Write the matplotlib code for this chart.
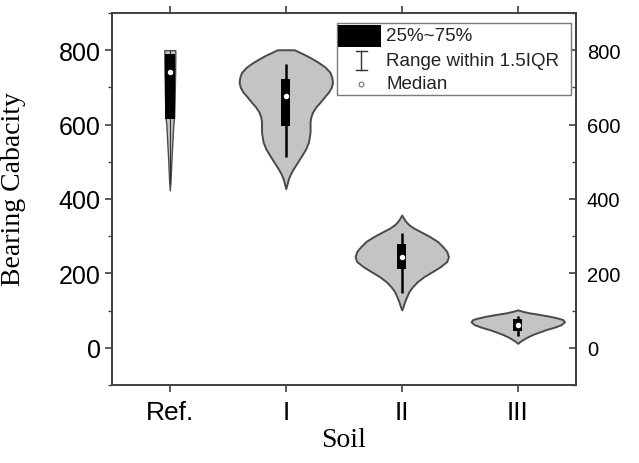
import numpy as np
import matplotlib.pyplot as plt
from matplotlib.patches import Rectangle
from matplotlib.ticker import MultipleLocator

# categories and positions on the x axis
SOILS = ["Ref.", "I", "II", "III"]
POSITIONS = [1, 2, 3, 4]

# violin outlines: bearing capacity values and
# half-width of the body (in screen px at the original size)
ref_coords = [423, 450, 500, 550, 600, 620, 660, 700, 740, 780, 800]
ref_vals = [0, 0.7, 1.5, 2.5, 3.5, 4.3, 4.7, 5.0, 5.3, 5.5, 5.5]

i_coords = [428, 440, 455, 468, 482, 500, 517, 535, 553, 580, 607, 620,
            633, 647, 660, 674, 687, 700, 714, 727, 740, 754, 767, 776,
            785, 794, 801]
i_vals = [0, 1.2, 2.7, 4.8, 7.7, 12, 16, 20, 22.7, 24.3, 24.3, 25,
          26.7, 30, 34.3, 38.5, 42.7, 45.5, 46.7, 46, 44.3, 39.5, 32.7, 27,
          21, 14, 8.5]

ii_coords = [102, 110, 125, 138, 152, 165, 178, 192, 205, 218, 232, 245,
             259, 272, 286, 299, 312, 321, 330, 338, 345, 351, 357]
ii_vals = [0, 1.2, 3, 5, 7.3, 11, 15.7, 22.5, 30.7, 38.5, 45, 46.7,
           45, 41, 35.7, 28, 19, 12.5, 7.5, 4.5, 2.6, 1.3, 0]

iii_coords = [12, 17, 22, 29, 36, 42, 49, 55, 62, 70, 76, 80, 85, 90, 94, 98, 102]
iii_vals = [0, 2.2, 5, 9.5, 15, 21, 28.3, 36, 43.3, 46.7, 45, 40, 31.7, 21,
            11.7, 5, 0]

COORDS = [ref_coords, i_coords, ii_coords, iii_coords]
VALS = [ref_vals, i_vals, ii_vals, iii_vals]

# box plot statistics
q1 = [615, 596, 212, 46]
q3 = [789, 722, 278, 78]
median = [741, 678, 243, 62]
whisker_lo = [440, 513, 147, 32]
whisker_hi = [800, 763, 308, 86]

PX_PER_UNIT = 116.0   # horizontal pixels per category step

fig = plt.figure(figsize=(6.39, 4.64), dpi=100)
ax = fig.add_axes([0.175, 0.168, 0.726, 0.802])

vpstats = []
widths = []
for c, v, m in zip(COORDS, VALS, median):
    vpstats.append({"coords": np.array(c, dtype=float),
                    "vals": np.array(v, dtype=float),
                    "mean": m, "median": m,
                    "min": min(c), "max": max(c)})
    widths.append(2 * max(v) / PX_PER_UNIT)

parts = ax.violin(vpstats, positions=POSITIONS, widths=widths,
                  showmeans=False, showextrema=False, showmedians=False)
for body in parts["bodies"]:
    body.set_facecolor("#c4c4c4")
    body.set_edgecolor("#4a4a4a")
    body.set_linewidth(1.4)
    body.set_alpha(1)
parts["bodies"][0].set_linewidth(1.0)

# whiskers, IQR boxes and medians
ax.vlines(POSITIONS[1:], whisker_lo[1:], whisker_hi[1:], color="black", lw=1.8, zorder=3)
ax.vlines(POSITIONS[:1], whisker_lo[:1], whisker_hi[:1], color="#333333", lw=0.8, zorder=3)
ax.bar(POSITIONS, np.array(q3) - np.array(q1), bottom=q1,
       width=[0.085, 0.075, 0.075, 0.075], color="black", zorder=4)
ax.scatter(POSITIONS, median, s=20, color="white", edgecolors="black",
           linewidths=0.5, zorder=5)

ax.set_xlim(0.5, 4.5)
ax.set_ylim(-100, 900)
ax.set_xticks(POSITIONS)
ax.set_xticklabels(SOILS, family="Liberation Sans", fontsize=19)
ax.set_yticks([0, 200, 400, 600, 800])
ax.yaxis.set_minor_locator(MultipleLocator(100))
for lab in ax.get_yticklabels():
    lab.set_family("Liberation Sans")
    lab.set_fontsize(18)

ax.tick_params(axis="x", direction="out", length=5, width=1.2, top=True,
               color="#404040", pad=6)
ax.tick_params(axis="y", which="major", direction="out", length=5, width=1.2,
               color="#404040", pad=3)
ax.tick_params(axis="y", which="minor", direction="out", length=3, width=1.0,
               color="#404040")
for sp in ax.spines.values():
    sp.set_color("#404040")
    sp.set_linewidth(1.4)

sec = ax.secondary_yaxis("right")
sec.set_yticks([0, 200, 400, 600, 800])
sec.yaxis.set_minor_locator(MultipleLocator(100))
sec.tick_params(which="major", direction="in", length=5, width=1.2,
                color="#404040", labelsize=14.5, pad=8)
sec.tick_params(which="minor", direction="in", length=3, width=1.0,
                color="#404040")
for lab in sec.get_yticklabels():
    lab.set_family("Liberation Sans")
sec.spines["right"].set_color("#404040")
sec.spines["right"].set_linewidth(1.4)

ax.set_ylabel("Bearing Cabacity", family="Liberation Serif", fontsize=20)
ax.yaxis.set_label_coords(-0.185, 0.53)
ax.set_xlabel("Soil", family="Liberation Serif", fontsize=20, labelpad=2)

# legend drawn by hand in axes coordinates
T = ax.transAxes
ax.add_patch(Rectangle((0.485, 0.78), 0.504, 0.193, transform=T,
                       facecolor="white", edgecolor="#7a7a7a", lw=1.0, zorder=6))
ax.add_patch(Rectangle((0.487, 0.909), 0.094, 0.058, transform=T,
                       facecolor="black", edgecolor="none", zorder=7))
ax.plot([0.538, 0.538], [0.846, 0.897], transform=T, color="#333333", lw=1.0, zorder=7)
ax.plot([0.526, 0.550], [0.897, 0.897], transform=T, color="#333333", lw=1.0, zorder=7)
ax.plot([0.526, 0.550], [0.846, 0.846], transform=T, color="#333333", lw=1.0, zorder=7)
ax.plot([0.538], [0.810], transform=T, marker="o", ms=3.5, mfc="white",
        mec="#777777", mew=0.8, zorder=7)
for ty, txt in zip([0.938, 0.871, 0.810], ["25%~75%", "Range within 1.5IQR", "Median"]):
    ax.text(0.592, ty, txt, transform=T, family="Liberation Sans", fontsize=13.5,
            va="center", ha="left", color="#222222", zorder=8)

fig.savefig("out.png", dpi=100)
